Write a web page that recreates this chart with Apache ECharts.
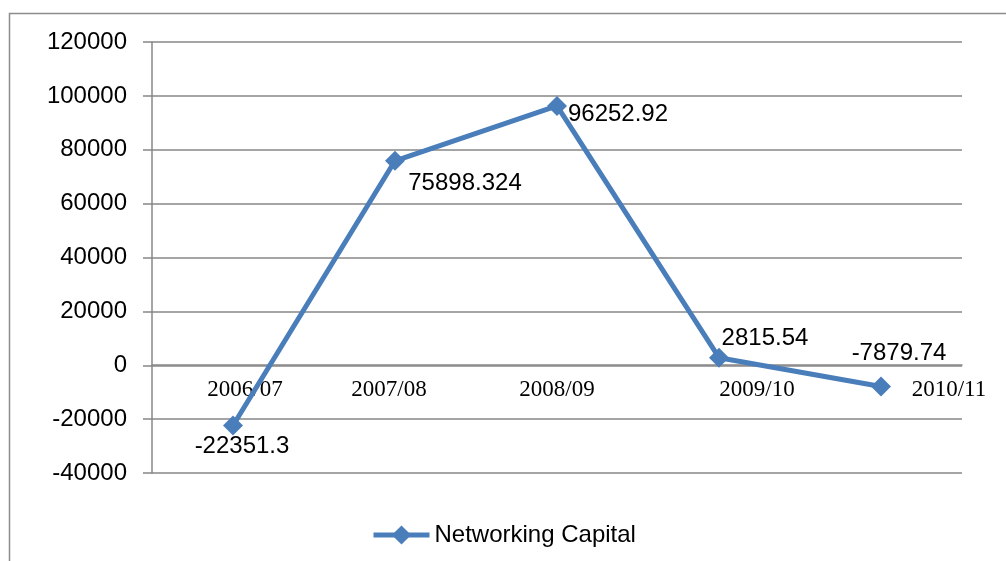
<!DOCTYPE html>
<html>
<head>
<meta charset="utf-8">
<script src="https://cdn.jsdelivr.net/npm/echarts@6/dist/echarts.min.js"></script>
<style>
  html, body { margin: 0; padding: 0; background: #fff; }
  #main { width: 1006px; height: 561px; }
</style>
</head>
<body>
<div id="main"></div>
<script>
// data
var years = ['2006/07', '2007/08', '2008/09', '2009/10', '2010/11'];
var capital = [-22351.3, 75898.324, 96252.92, 2815.54, -7879.74];
var seriesName = 'Networking Capital';

// where each year label / value label sits relative to its point (layout only)
var yearShift = [12, -6, 0, 38, 68];
var valueOffset = [[9, 21], [70, 23], [61, 8], [46, -19], [18, -33]];

var chart = echarts.init(document.getElementById('main'));

var rich = {};
yearShift.forEach(function (dx, i) {
  rich['c' + i] = {
    fontFamily: 'Liberation Serif',
    fontSize: 23,
    color: '#000',
    padding: dx >= 0 ? [0, 0, 0, 2 * dx] : [0, -2 * dx, 0, 0]
  };
});

chart.setOption({
  animation: false,
  graphic: [{
    type: 'rect',
    shape: { x: 9.5, y: 13.5, width: 1010, height: 570 },
    style: { fill: 'none', stroke: '#8c8c8c', lineWidth: 1.5 },
    silent: true
  }],
  grid: { left: 152, right: 44, top: 42, bottom: 88 },
  legend: {
    left: 366,
    top: 518,
    itemWidth: 56,
    itemHeight: 24,
    itemGap: 4,
    lineStyle: { width: 5 },
    textStyle: { fontFamily: 'Liberation Sans', fontSize: 24, color: '#000' },
    data: [seriesName]
  },
  xAxis: {
    type: 'category',
    data: years,
    boundaryGap: true,
    offset: -108,
    axisLine: { onZero: false, lineStyle: { color: '#878787', width: 1.5 } },
    axisTick: { show: false },
    axisLabel: {
      interval: 0,
      margin: 13,
      formatter: function (v, i) { return '{c' + i + '|' + v + '}'; },
      rich: rich
    },
    splitLine: { show: false }
  },
  yAxis: {
    type: 'value',
    min: -40000,
    max: 120000,
    interval: 20000,
    axisLine: { show: true, lineStyle: { color: '#878787', width: 1.5 } },
    axisTick: { show: true, inside: false, length: 9, lineStyle: { color: '#878787', width: 1.5 } },
    axisLabel: {
      margin: 25,
      fontFamily: 'Liberation Sans',
      fontSize: 24,
      color: '#000',
      formatter: function (v) { return String(v); }
    },
    splitLine: { lineStyle: { color: '#878787', width: 1.5 } }
  },
  series: [{
    name: seriesName,
    type: 'line',
    data: capital.map(function (v, i) {
      return { value: v, label: { offset: valueOffset[i] } };
    }),
    symbol: 'diamond',
    symbolSize: 20,
    lineStyle: { color: '#4a7ebb', width: 5 },
    itemStyle: { color: '#4a7ebb' },
    label: {
      show: true,
      position: 'inside',
      fontFamily: 'Liberation Sans',
      fontSize: 24,
      color: '#000',
      formatter: function (p) { return String(p.value); }
    }
  }]
});
</script>
</body>
</html>
